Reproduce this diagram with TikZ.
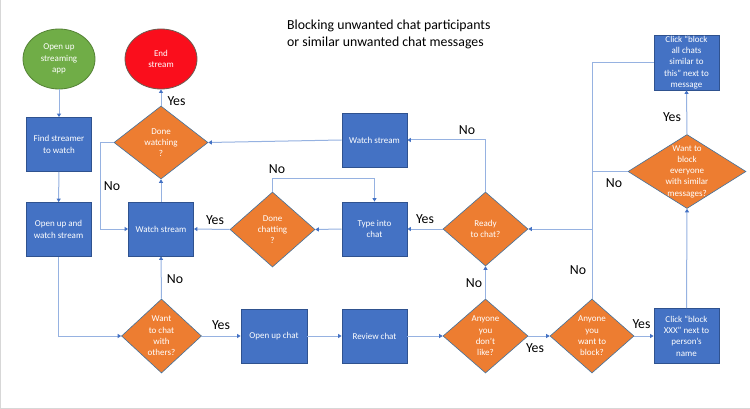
\documentclass[tikz,border=0pt]{standalone}
\usepackage{fontspec}
\setmainfont{Carlito}
\usetikzlibrary{shapes.geometric,arrows.meta}
\definecolor{boxblue}{RGB}{68,114,196}
\definecolor{boxedge}{RGB}{47,82,143}
\definecolor{orng}{RGB}{237,125,49}
\definecolor{diaedge}{RGB}{65,113,156}
\definecolor{grn}{RGB}{112,173,71}
\definecolor{grnedge}{RGB}{84,130,53}
\definecolor{redf}{RGB}{250,14,28}
\definecolor{rededge}{RGB}{110,90,80}
\definecolor{lineblue}{RGB}{150,178,225}
\definecolor{tipblue}{RGB}{68,114,196}
\definecolor{frame}{RGB}{215,215,215}
\tikzset{
  x=1pt, y=-1pt,
  txt/.style={font=\fontsize{9}{11.3}\selectfont, text=white, align=center},
  box/.style={rectangle, draw=boxedge, fill=boxblue, line width=0.8pt, minimum width=65pt, minimum height=54pt, inner sep=0pt, txt},
  dia/.style={diamond, draw=diaedge, fill=orng, line width=0.6pt, inner sep=0pt},
  ell/.style={ellipse, minimum width=72pt, minimum height=60pt, inner sep=0pt, line width=0.8pt, txt},
  ln/.style={draw=lineblue, line width=1pt},
  arr/.style={ln, -{Triangle[width=4pt,length=3.5pt,color=tipblue]}},
  lbl/.style={font=\fontsize{13.8}{16}\selectfont, text=black},
  ttl/.style={font=\fontsize{13.8}{16}\selectfont, text=black, anchor=base west, inner sep=0pt}
}
\begin{document}
\begin{tikzpicture}
\useasboundingbox (0,0) rectangle (750,409);
\fill[white] (0,0) rectangle (750,409);
\draw[frame, line width=0.8pt] (0.5,0) -- (0.5,408.5) -- (750,408.5);

% title
\node[ttl] (t1) at (287,29.5) {Blocking unwanted chat participants};
\node[ttl] (t2) at (287,47) {or similar unwanted chat messages};

% left column
\node[ell, fill=grn, draw=grnedge] (start) at (59,59) {Open up\\streaming\\app};
\node[ell, fill=redf, draw=rededge] (end) at (161,59) {End\\stream};
\node[box] (find) at (59,144.5) {Find streamer\\to watch};
\node[box] (ow) at (58.5,229.5) {Open up and\\watch stream};
\node[box] (ws1) at (161,229) {Watch stream};
\node[dia, minimum width=94pt, minimum height=73pt] (dw) at (161,142.5) {};
\node[txt] (dwt) at (dw) {Done\\watching\\?};
\node[dia, minimum width=80pt, minimum height=74pt] (wc) at (161.5,336) {};
\node[txt] (wct) at (wc) {Want\\to chat\\with\\others?};

% bottom row
\node[box, minimum width=66pt] (oc) at (274,336) {Open up chat};
\node[box] (rc) at (374.5,336) {Review chat};
\node[dia, minimum width=85pt, minimum height=74pt] (ndl) at (485.5,336) {};
\node[txt] (ndlt) at (ndl) {Anyone\\you\\don’t\\like?};
\node[dia, minimum width=84pt, minimum height=74pt] (wb) at (592,336) {};
\node[txt] (wbt) at (wb) {Anyone\\you\\want to\\block?};
\node[box, minimum height=55pt] (cbx) at (686.5,336) {Click “block\\XXX” next to\\person’s\\name};

% middle row
\node[dia, minimum width=85pt, minimum height=74pt] (rdy) at (485.5,229) {};
\node[txt] (rdyt) at (rdy) {Ready\\to chat?};
\node[box] (tc) at (374.5,229) {Type into\\chat};
\node[dia, minimum width=85pt, minimum height=75pt] (dc) at (272.5,229.5) {};
\node[txt] (dct) at (dc) {Done\\chatting\\?};
\node[box] (ws2) at (374.5,140) {Watch stream};

% right column
\node[dia, minimum width=118pt, minimum height=74pt] (wall) at (687,171.5) {};
\node[txt] (wallt) at (wall) {Want to\\block\\everyone\\with similar\\messages?};
\node[box, minimum height=55pt] (cba) at (686.5,62.5) {Click “block\\all chats\\similar to\\this” next to\\message};
\coordinate (j) at (592,229);

% connectors
\draw[arr] (start) -- (find);
\draw[arr] (find) -- (ow);
\draw[arr] (ow.south) |- (wc.west);
\draw[arr] (wc.north) -- (ws1.south);
\draw[arr] (wc.east) -- (oc.west);
\draw[arr] (oc) -- (rc);
\draw[arr] (rc.east) -- (ndl.west);
\draw[arr] (ndl.north) -- (rdy.south);
\draw[arr] (ndl.east) -- (wb.west);
\draw[arr] (wb.east) -- (cbx.west);
\draw[arr] (cbx.north) -- (wall.south);
\draw[arr] (wall.north) -- (cba.south);
\draw[ln] (cba.west) -| (j);
\draw[ln] (wall.west) -- (wall.west -| j);
\draw[ln] (wb.north) -- (j);
\draw[arr] (j) -- (rdy.east);
\draw[arr] (rdy.north) |- (ws2.east);
\draw[arr] (rdy.west) -- (tc.east);
\draw[arr] (tc.west) -- (dc.east);
\draw[arr] (dc.west) -- (ws1.east);
\draw[arr] (dc.north) -- ++(0,-13) -| (tc.north);
\draw[arr] (ws1.north) -- (dw.south);
\draw[arr] (dw.west) -- (100,142.5) |- (ws1.west);
\draw[arr] (ws2.west) -- (dw.east);
\draw[arr] (dw.north) -- (end.south);

% labels
\node[lbl] (y1) at (176.5,101) {Yes};
\node[lbl] (n1) at (112,186) {No};
\node[lbl] (n2) at (175,279) {No};
\node[lbl] (y2) at (221,325) {Yes};
\node[lbl] (y3) at (215,220) {Yes};
\node[lbl] (n3) at (277,169) {No};
\node[lbl] (n4) at (467,130) {No};
\node[lbl] (y4) at (425,219) {Yes};
\node[lbl] (n5) at (474,283) {No};
\node[lbl] (y5) at (535,348) {Yes};
\node[lbl] (y6) at (641.5,324) {Yes};
\node[lbl] (n6) at (578,270) {No};
\node[lbl] (n7) at (614,183) {No};
\node[lbl] (y7) at (672,117) {Yes};
\end{tikzpicture}
\end{document}
